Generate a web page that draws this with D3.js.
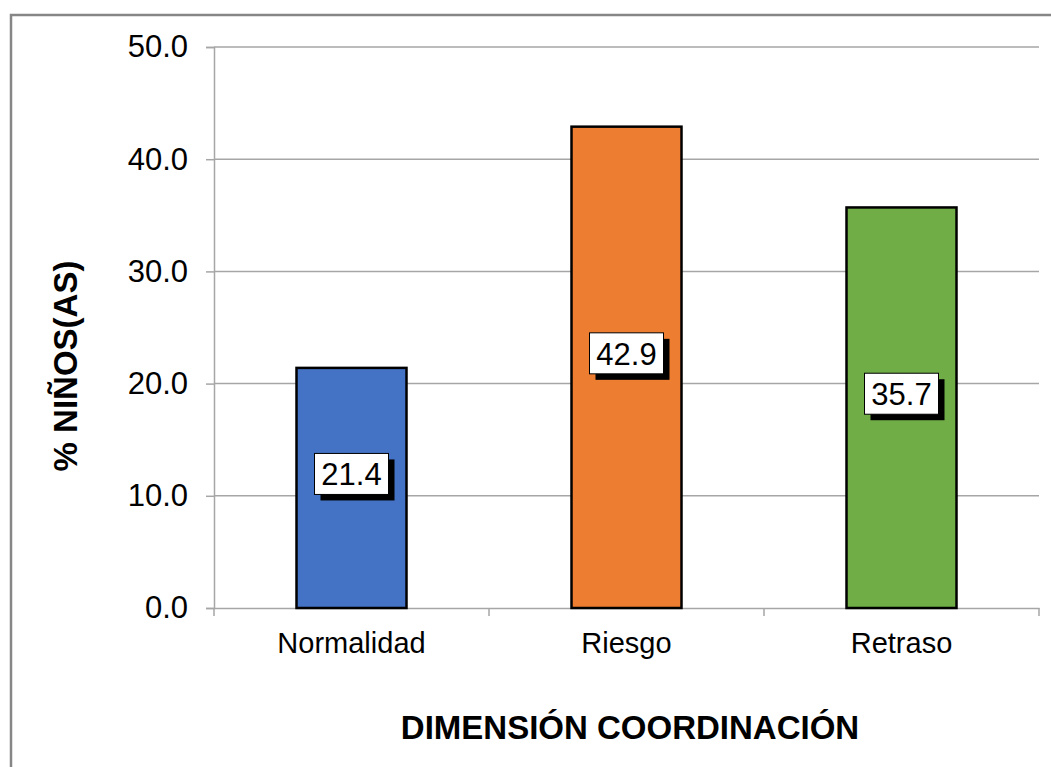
<!DOCTYPE html>
<html>
<head>
<meta charset="utf-8">
<script src="https://cdn.jsdelivr.net/npm/d3@7"></script>
<style>
  html, body { margin: 0; padding: 0; background: #fff; }
  svg { display: block; font-family: "Liberation Sans", Arial, sans-serif; }
</style>
</head>
<body>
<svg id="chart" width="1051" height="767"></svg>
<script>
const categories = ["Normalidad", "Riesgo", "Retraso"];
const values = [21.4, 42.9, 35.7];
const colors = ["#4472C4", "#ED7D31", "#70AD47"];
const yTicks = [0, 10, 20, 30, 40, 50];
const yTitle = "% NIÑOS(AS)";
const xTitle = "DIMENSIÓN COORDINACIÓN";

const svg = d3.select("#chart");
const W = 1051, H = 767;
const plot = { left: 214, right: 1039, top: 47, bottom: 608 };

svg.append("rect").attr("width", W).attr("height", H).attr("fill", "#fff");
// outer chart border
svg.append("rect")
  .attr("x", 11).attr("y", 15).attr("width", W + 20).attr("height", H + 20)
  .attr("fill", "none").attr("stroke", "#868686").attr("stroke-width", 2.5);

const y = d3.scaleLinear().domain([0, 50]).range([plot.bottom, plot.top]);
const x = d3.scaleBand().domain(categories).range([plot.left, plot.right])
  .paddingInner(0.6).paddingOuter(0.3);

const gridColor = "#a6a6a6";

// gridlines
svg.append("g").selectAll("line").data(yTicks.filter(d => d > 0)).join("line")
  .attr("x1", plot.left).attr("x2", plot.right)
  .attr("y1", d => y(d)).attr("y2", d => y(d))
  .attr("stroke", gridColor).attr("stroke-width", 1.5);

// y axis
const yAxis = d3.axisLeft(y).tickValues(yTicks).tickFormat(d3.format(".1f")).tickSize(8).tickPadding(18);
const gy = svg.append("g").attr("transform", `translate(${plot.left},0)`).call(yAxis);
gy.select(".domain").attr("stroke", gridColor).attr("stroke-width", 1.5);
gy.selectAll(".tick line").attr("stroke", gridColor).attr("stroke-width", 1.5);
gy.selectAll(".tick text").attr("font-size", 31).attr("fill", "#000")
  .attr("font-family", "Liberation Sans, Arial, sans-serif");

// x axis
const xAxis = d3.axisBottom(x).tickSize(0).tickPadding(24);
const gx = svg.append("g").attr("transform", `translate(0,${plot.bottom})`).call(xAxis);
gx.select(".domain").attr("stroke", gridColor).attr("stroke-width", 1.5);
gx.selectAll(".tick text").attr("font-size", 29).attr("fill", "#000")
  .attr("font-family", "Liberation Sans, Arial, sans-serif");
// category boundary ticks
const step = x.step();
const bounds = d3.range(categories.length + 1).map(i => plot.left + i * step);
svg.append("g").selectAll("line").data(bounds).join("line")
  .attr("x1", d => d).attr("x2", d => d)
  .attr("y1", plot.bottom).attr("y2", plot.bottom + 8)
  .attr("stroke", gridColor).attr("stroke-width", 1.5);

// bars
svg.append("g").selectAll("rect").data(values).join("rect")
  .attr("x", (d, i) => x(categories[i]))
  .attr("y", d => y(d))
  .attr("width", x.bandwidth())
  .attr("height", d => y(0) - y(d))
  .attr("fill", (d, i) => colors[i])
  .attr("stroke", "#000").attr("stroke-width", 2.5);

// data labels
const boxW = 74, boxH = 41, shadow = 6;
const lab = svg.append("g").selectAll("g").data(values).join("g")
  .attr("transform", (d, i) => `translate(${x(categories[i]) + x.bandwidth() / 2},${y(d / 2) - 14})`);
lab.append("rect").attr("x", -boxW / 2 + shadow).attr("y", -boxH / 2 + shadow)
  .attr("width", boxW).attr("height", boxH).attr("fill", "#000");
lab.append("rect").attr("x", -boxW / 2).attr("y", -boxH / 2)
  .attr("width", boxW).attr("height", boxH).attr("fill", "#fff")
  .attr("stroke", "#000").attr("stroke-width", 1);
lab.append("text").attr("text-anchor", "middle").attr("dy", "0.36em")
  .attr("font-size", 31).attr("fill", "#000").text(d => d3.format(".1f")(d));

// axis titles
svg.append("text")
  .attr("transform", `translate(77,366) rotate(-90)`)
  .attr("text-anchor", "middle").attr("font-weight", "bold").attr("font-size", 33)
  .text(yTitle);
svg.append("text")
  .attr("x", 630).attr("y", 739)
  .attr("text-anchor", "middle").attr("font-weight", "bold").attr("font-size", 33)
  .text(xTitle);
</script>
</body>
</html>
